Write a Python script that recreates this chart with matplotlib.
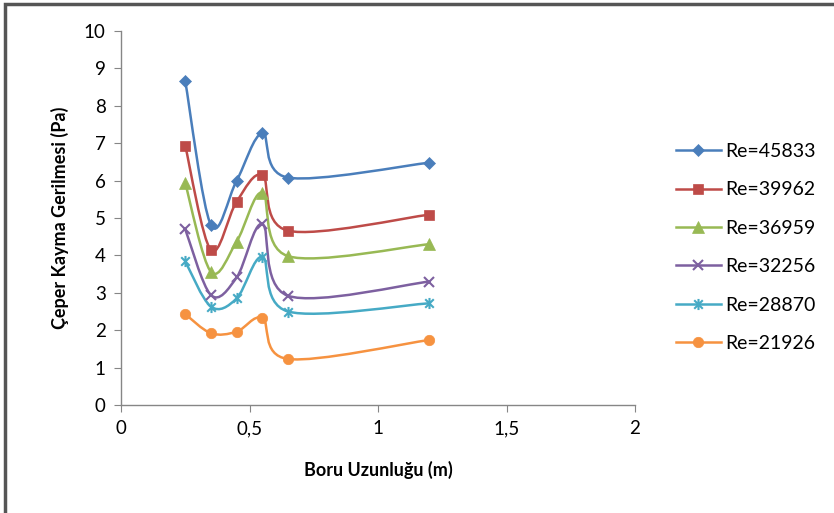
import numpy as np
import matplotlib
matplotlib.use("Agg")
import matplotlib.pyplot as plt
from matplotlib.path import Path
from matplotlib.patches import PathPatch, Rectangle
from matplotlib.lines import Line2D

plt.rcParams['font.family'] = ['Lato', 'DejaVu Sans']

x = [0.25, 0.35, 0.45, 0.55, 0.65, 1.2]
labels = ["Re=45833", "Re=39962", "Re=36959", "Re=32256", "Re=28870", "Re=21926"]
re45833 = [8.66, 4.81, 6.00, 7.26, 6.08, 6.48]
re39962 = [6.93, 4.14, 5.44, 6.14, 4.66, 5.09]
re36959 = [5.93, 3.56, 4.37, 5.68, 3.98, 4.30]
re32256 = [4.70, 2.94, 3.41, 4.84, 2.92, 3.30]
re28870 = [3.84, 2.63, 2.85, 3.96, 2.50, 2.72]
re21926 = [2.43, 1.92, 1.96, 2.32, 1.23, 1.74]
series = [re45833, re39962, re36959, re32256, re28870, re21926]

colors = ["#4A7EBB", "#BE4B48", "#98B954", "#7D60A0", "#46AAC5", "#F69240"]

star = Path([(-1, -1), (1, 1), (-1, 1), (1, -1), (0, -1.3), (0, 1.3)],
            [Path.MOVETO, Path.LINETO, Path.MOVETO, Path.LINETO, Path.MOVETO, Path.LINETO])
markers = ["D", "s", "^", "x", star, "o"]
msizes = [6.5, 7.5, 8, 7.5, 8, 7.5]

def smooth_path(xs, ys, t=1/6):
    pts = np.column_stack([xs, ys])
    n = len(pts)
    verts = [pts[0]]
    codes = [Path.MOVETO]
    for i in range(n - 1):
        p0 = pts[i - 1] if i > 0 else pts[i]
        p1 = pts[i]
        p2 = pts[i + 1]
        p3 = pts[i + 2] if i + 2 < n else pts[i + 1]
        c1 = p1 + (p2 - p0) * t
        c2 = p2 - (p3 - p1) * t
        verts += [c1, c2, p2]
        codes += [Path.CURVE4] * 3
    return Path(verts, codes)

fig = plt.figure(figsize=(8.34, 5.13), dpi=100)
ax = fig.add_axes([121/834, 1 - 405/513, (635-121)/834, (405-31)/513])

handles = []
for ys, c, m, ms, lab in zip(series, colors, markers, msizes, labels):
    patch = PathPatch(smooth_path(x, ys), facecolor='none', edgecolor=c, lw=1.8, zorder=2)
    ax.add_patch(patch)
    mew = 1.5 if m in ("x",) or m is star else 0.5
    ax.plot(x, ys, linestyle='none', marker=m, markersize=ms, color=c,
            markeredgecolor=c, markeredgewidth=mew, zorder=3)
    handles.append(Line2D([], [], color=c, lw=1.8, marker=m, markersize=ms,
                          markeredgecolor=c, markeredgewidth=mew, label=lab))

ax.set_xlim(0, 2)
ax.set_ylim(0, 10)
ax.set_xticks([0, 0.5, 1, 1.5, 2])
ax.set_xticklabels(["0", "0,5", "1", "1,5", "2"])
ax.set_yticks(range(0, 11))
for s in ["top", "right"]:
    ax.spines[s].set_visible(False)
for s in ["left", "bottom"]:
    ax.spines[s].set_color("#868686")
    ax.spines[s].set_linewidth(1.0)
ax.tick_params(axis='both', direction='out', length=5, color="#868686",
               labelsize=13.5, labelcolor="#000000", pad=6)
ax.set_xlabel("Boru Uzunluğu (m)", fontsize=13, fontweight='bold', labelpad=17)
ax.set_ylabel("Çeper Kayma Gerilmesi (Pa)", fontsize=13, fontweight='bold', labelpad=11)

fig.legend(handles=handles, loc='upper left', bbox_to_anchor=(676/834, 1 - 143/513),
           frameon=False, fontsize=14, handlelength=2.3, labelspacing=1.1,
           handletextpad=0.25, borderaxespad=0, borderpad=0)

fig.patches.append(Rectangle((5/834, -0.01), 1.02, 1 - 4/513 + 0.01, transform=fig.transFigure,
                             fill=False, edgecolor="#555555", lw=2.5, zorder=10))

fig.savefig("out.png", dpi=100)
